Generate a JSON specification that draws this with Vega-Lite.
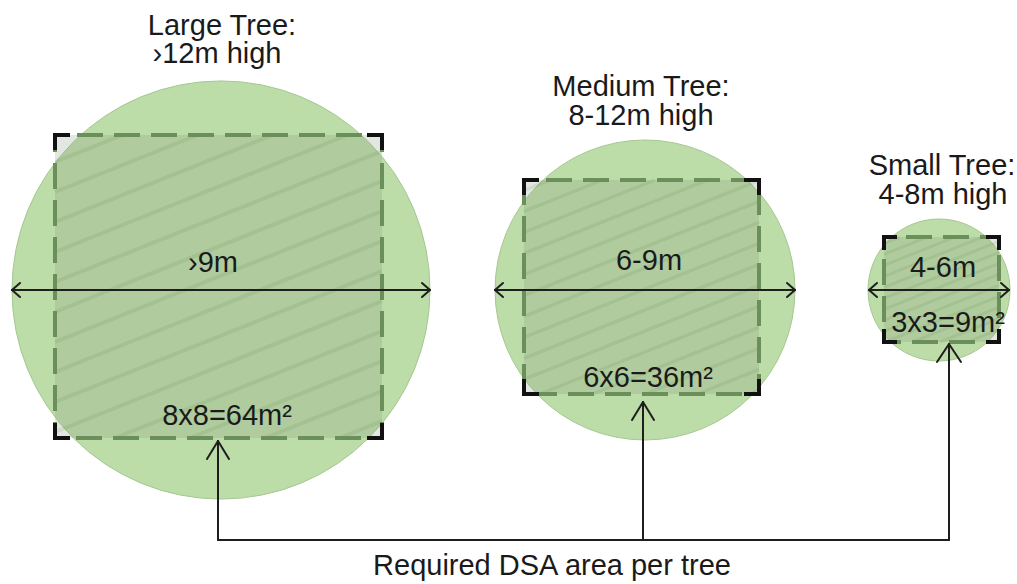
{
  "$schema": "https://vega.github.io/schema/vega-lite/v6.json",
  "width": 1017,
  "height": 584,
  "padding": 0,
  "autosize": {"type": "none"},
  "background": "white",
  "config": {"view": {"stroke": null}},
  "datasets": {
    "circles": [
      {"tree": "Large", "cx": 221, "cy": 290, "d": 418},
      {"tree": "Medium", "cx": 645, "cy": 290, "d": 300},
      {"tree": "Small", "cx": 939, "cy": 290, "d": 142}
    ],
    "rects": [
      {"tree": "Large", "x0": 55, "y0": 135, "x1": 382, "y1": 438},
      {"tree": "Medium", "x0": 524, "y0": 180, "x1": 759, "y1": 394},
      {"tree": "Small", "x0": 884, "y0": 237, "x1": 999, "y1": 342}
    ],
    "hatch": [
      {"tree": "Large", "x0": 55, "y0": 162, "x1": 122.5, "y1": 135},
      {"tree": "Large", "x0": 55, "y0": 192, "x1": 197.5, "y1": 135},
      {"tree": "Large", "x0": 55, "y0": 222, "x1": 272.5, "y1": 135},
      {"tree": "Large", "x0": 55, "y0": 252, "x1": 347.5, "y1": 135},
      {"tree": "Large", "x0": 55, "y0": 282, "x1": 382, "y1": 151.2},
      {"tree": "Large", "x0": 55, "y0": 312, "x1": 382, "y1": 181.2},
      {"tree": "Large", "x0": 55, "y0": 342, "x1": 382, "y1": 211.2},
      {"tree": "Large", "x0": 55, "y0": 372, "x1": 382, "y1": 241.2},
      {"tree": "Large", "x0": 55, "y0": 402, "x1": 382, "y1": 271.2},
      {"tree": "Large", "x0": 55, "y0": 432, "x1": 382, "y1": 301.2},
      {"tree": "Large", "x0": 115, "y0": 438, "x1": 382, "y1": 331.2},
      {"tree": "Large", "x0": 190, "y0": 438, "x1": 382, "y1": 361.2},
      {"tree": "Large", "x0": 265, "y0": 438, "x1": 382, "y1": 391.2},
      {"tree": "Large", "x0": 340, "y0": 438, "x1": 382, "y1": 421.2},
      {"tree": "Medium", "x0": 524, "y0": 190.4, "x1": 550, "y1": 180},
      {"tree": "Medium", "x0": 524, "y0": 211.4, "x1": 602.5, "y1": 180},
      {"tree": "Medium", "x0": 524, "y0": 232.4, "x1": 655, "y1": 180},
      {"tree": "Medium", "x0": 524, "y0": 253.4, "x1": 707.5, "y1": 180},
      {"tree": "Medium", "x0": 524, "y0": 274.4, "x1": 759, "y1": 180.4},
      {"tree": "Medium", "x0": 524, "y0": 295.4, "x1": 759, "y1": 201.4},
      {"tree": "Medium", "x0": 524, "y0": 316.4, "x1": 759, "y1": 222.4},
      {"tree": "Medium", "x0": 524, "y0": 337.4, "x1": 759, "y1": 243.4},
      {"tree": "Medium", "x0": 524, "y0": 358.4, "x1": 759, "y1": 264.4},
      {"tree": "Medium", "x0": 524, "y0": 379.4, "x1": 759, "y1": 285.4},
      {"tree": "Medium", "x0": 540, "y0": 394, "x1": 759, "y1": 306.4},
      {"tree": "Medium", "x0": 592.5, "y0": 394, "x1": 759, "y1": 327.4},
      {"tree": "Medium", "x0": 645, "y0": 394, "x1": 759, "y1": 348.4},
      {"tree": "Medium", "x0": 697.5, "y0": 394, "x1": 759, "y1": 369.4},
      {"tree": "Medium", "x0": 750, "y0": 394, "x1": 759, "y1": 390.4},
      {"tree": "Small", "x0": 884, "y0": 243.4, "x1": 900, "y1": 237},
      {"tree": "Small", "x0": 884, "y0": 254.4, "x1": 927.5, "y1": 237},
      {"tree": "Small", "x0": 884, "y0": 265.4, "x1": 955, "y1": 237},
      {"tree": "Small", "x0": 884, "y0": 276.4, "x1": 982.5, "y1": 237},
      {"tree": "Small", "x0": 884, "y0": 287.4, "x1": 999, "y1": 241.4},
      {"tree": "Small", "x0": 884, "y0": 298.4, "x1": 999, "y1": 252.4},
      {"tree": "Small", "x0": 884, "y0": 309.4, "x1": 999, "y1": 263.4},
      {"tree": "Small", "x0": 884, "y0": 320.4, "x1": 999, "y1": 274.4},
      {"tree": "Small", "x0": 884, "y0": 331.4, "x1": 999, "y1": 285.4},
      {"tree": "Small", "x0": 885, "y0": 342, "x1": 999, "y1": 296.4},
      {"tree": "Small", "x0": 912.5, "y0": 342, "x1": 999, "y1": 307.4},
      {"tree": "Small", "x0": 940, "y0": 342, "x1": 999, "y1": 318.4},
      {"tree": "Small", "x0": 967.5, "y0": 342, "x1": 999, "y1": 329.4},
      {"tree": "Small", "x0": 995, "y0": 342, "x1": 999, "y1": 340.4}
    ],
    "brackets": [
      {"x0": 55, "y0": 135, "x1": 68, "y1": 135}, {"x0": 55, "y0": 135, "x1": 55, "y1": 148},
      {"x0": 382, "y0": 135, "x1": 369, "y1": 135}, {"x0": 382, "y0": 135, "x1": 382, "y1": 148},
      {"x0": 55, "y0": 438, "x1": 68, "y1": 438}, {"x0": 55, "y0": 438, "x1": 55, "y1": 425},
      {"x0": 382, "y0": 438, "x1": 369, "y1": 438}, {"x0": 382, "y0": 438, "x1": 382, "y1": 425},
      {"x0": 524, "y0": 180, "x1": 537, "y1": 180}, {"x0": 524, "y0": 180, "x1": 524, "y1": 193},
      {"x0": 759, "y0": 180, "x1": 746, "y1": 180}, {"x0": 759, "y0": 180, "x1": 759, "y1": 193},
      {"x0": 524, "y0": 394, "x1": 537, "y1": 394}, {"x0": 524, "y0": 394, "x1": 524, "y1": 381},
      {"x0": 759, "y0": 394, "x1": 746, "y1": 394}, {"x0": 759, "y0": 394, "x1": 759, "y1": 381},
      {"x0": 884, "y0": 237, "x1": 895, "y1": 237}, {"x0": 884, "y0": 237, "x1": 884, "y1": 248},
      {"x0": 999, "y0": 237, "x1": 988, "y1": 237}, {"x0": 999, "y0": 237, "x1": 999, "y1": 248},
      {"x0": 884, "y0": 342, "x1": 895, "y1": 342}, {"x0": 884, "y0": 342, "x1": 884, "y1": 331},
      {"x0": 999, "y0": 342, "x1": 988, "y1": 342}, {"x0": 999, "y0": 342, "x1": 999, "y1": 331}
    ],
    "arrows": [
      {"x0": 12, "y0": 290, "x1": 430, "y1": 290},
      {"x0": 12, "y0": 290, "x1": 20, "y1": 283}, {"x0": 12, "y0": 290, "x1": 20, "y1": 297},
      {"x0": 430, "y0": 290, "x1": 422, "y1": 283}, {"x0": 430, "y0": 290, "x1": 422, "y1": 297},
      {"x0": 495, "y0": 290, "x1": 795, "y1": 290},
      {"x0": 495, "y0": 290, "x1": 503, "y1": 283}, {"x0": 495, "y0": 290, "x1": 503, "y1": 297},
      {"x0": 795, "y0": 290, "x1": 787, "y1": 283}, {"x0": 795, "y0": 290, "x1": 787, "y1": 297},
      {"x0": 869, "y0": 290, "x1": 1009, "y1": 290},
      {"x0": 869, "y0": 290, "x1": 877, "y1": 283}, {"x0": 869, "y0": 290, "x1": 877, "y1": 297},
      {"x0": 1009, "y0": 290, "x1": 1001, "y1": 283}, {"x0": 1009, "y0": 290, "x1": 1001, "y1": 297},
      {"x0": 218, "y0": 540, "x1": 218, "y1": 441},
      {"x0": 218, "y0": 441, "x1": 207, "y1": 459}, {"x0": 218, "y0": 441, "x1": 229, "y1": 459},
      {"x0": 643, "y0": 540, "x1": 643, "y1": 402},
      {"x0": 643, "y0": 402, "x1": 632, "y1": 420}, {"x0": 643, "y0": 402, "x1": 654, "y1": 420},
      {"x0": 949, "y0": 540, "x1": 949, "y1": 344},
      {"x0": 949, "y0": 344, "x1": 937, "y1": 362}, {"x0": 949, "y0": 344, "x1": 961, "y1": 362},
      {"x0": 218, "y0": 540, "x1": 949, "y1": 540}
    ],
    "labels": [
      {"x": 222, "y": 35, "label": "Large Tree:"},
      {"x": 217, "y": 63, "label": "›12m high"},
      {"x": 641, "y": 96, "label": "Medium Tree:"},
      {"x": 641, "y": 125, "label": "8-12m high"},
      {"x": 942, "y": 175, "label": "Small Tree:"},
      {"x": 943, "y": 204, "label": "4-8m high"},
      {"x": 213, "y": 272, "label": "›9m"},
      {"x": 649, "y": 270, "label": "6-9m"},
      {"x": 943, "y": 277, "label": "4-6m"},
      {"x": 227, "y": 425, "label": "8x8=64m²"},
      {"x": 648, "y": 387, "label": "6x6=36m²"},
      {"x": 948, "y": 332, "label": "3x3=9m²"},
      {"x": 552, "y": 575, "label": "Required DSA area per tree"}
    ]
  },
  "layer": [
    {
      "data": {"name": "circles"},
      "mark": {"type": "point", "shape": "circle", "filled": true, "fill": "#bcdca8", "fillOpacity": 1, "opacity": 1, "stroke": "#a6c693", "strokeWidth": 1, "strokeOpacity": 1},
      "encoding": {
        "x": {"field": "cx", "type": "quantitative", "scale": {"domain": [0, 1017], "nice": false, "zero": false}, "axis": null},
        "y": {"field": "cy", "type": "quantitative", "scale": {"domain": [0, 584], "reverse": true, "nice": false, "zero": false}, "axis": null},
        "size": {"field": "d", "type": "quantitative", "scale": {"type": "pow", "exponent": 2, "domain": [0, 1000], "range": [0, 1000000]}, "legend": null}
      }
    },
    {
      "data": {"name": "rects"},
      "mark": {"type": "rect", "fill": "#8a9c80", "fillOpacity": 0.24},
      "encoding": {
        "x": {"field": "x0", "type": "quantitative", "scale": {"domain": [0, 1017], "nice": false, "zero": false}, "axis": null},
        "x2": {"field": "x1"},
        "y": {"field": "y0", "type": "quantitative", "scale": {"domain": [0, 584], "reverse": true, "nice": false, "zero": false}, "axis": null},
        "y2": {"field": "y1"}
      }
    },
    {
      "data": {"name": "hatch"},
      "mark": {"type": "rule", "stroke": "#50783c", "strokeOpacity": 0.12, "strokeCap": "butt"},
      "encoding": {
        "x": {"field": "x0", "type": "quantitative", "scale": {"domain": [0, 1017], "nice": false, "zero": false}, "axis": null},
        "x2": {"field": "x1"},
        "y": {"field": "y0", "type": "quantitative", "scale": {"domain": [0, 584], "reverse": true, "nice": false, "zero": false}, "axis": null},
        "y2": {"field": "y1"},
        "strokeWidth": {"field": "tree", "type": "nominal", "scale": {"domain": ["Large", "Medium", "Small"], "range": [4, 3, 2]}, "legend": null}
      }
    },
    {
      "data": {"name": "rects"},
      "mark": {"type": "rect", "fillOpacity": 0, "fill": "white", "stroke": "#6b8f5a", "strokeWidth": 4, "strokeDash": [26, 11], "strokeDashOffset": 15},
      "encoding": {
        "x": {"field": "x0", "type": "quantitative", "scale": {"domain": [0, 1017], "nice": false, "zero": false}, "axis": null},
        "x2": {"field": "x1"},
        "y": {"field": "y0", "type": "quantitative", "scale": {"domain": [0, 584], "reverse": true, "nice": false, "zero": false}, "axis": null},
        "y2": {"field": "y1"}
      }
    },
    {
      "data": {"name": "brackets"},
      "mark": {"type": "rule", "stroke": "#111111", "strokeWidth": 4, "strokeCap": "square"},
      "encoding": {
        "x": {"field": "x0", "type": "quantitative", "scale": {"domain": [0, 1017], "nice": false, "zero": false}, "axis": null},
        "x2": {"field": "x1"},
        "y": {"field": "y0", "type": "quantitative", "scale": {"domain": [0, 584], "reverse": true, "nice": false, "zero": false}, "axis": null},
        "y2": {"field": "y1"}
      }
    },
    {
      "data": {"name": "arrows"},
      "mark": {"type": "rule", "stroke": "#1e1e1e", "strokeWidth": 2, "strokeCap": "round"},
      "encoding": {
        "x": {"field": "x0", "type": "quantitative", "scale": {"domain": [0, 1017], "nice": false, "zero": false}, "axis": null},
        "x2": {"field": "x1"},
        "y": {"field": "y0", "type": "quantitative", "scale": {"domain": [0, 584], "reverse": true, "nice": false, "zero": false}, "axis": null},
        "y2": {"field": "y1"}
      }
    },
    {
      "data": {"name": "labels"},
      "mark": {"type": "text", "font": "Liberation Sans", "fontSize": 29, "fontWeight": 400, "fill": "#1a1a1a", "align": "center", "baseline": "alphabetic"},
      "encoding": {
        "x": {"field": "x", "type": "quantitative", "scale": {"domain": [0, 1017], "nice": false, "zero": false}, "axis": null},
        "y": {"field": "y", "type": "quantitative", "scale": {"domain": [0, 584], "reverse": true, "nice": false, "zero": false}, "axis": null},
        "text": {"field": "label", "type": "nominal"}
      }
    }
  ]
}
